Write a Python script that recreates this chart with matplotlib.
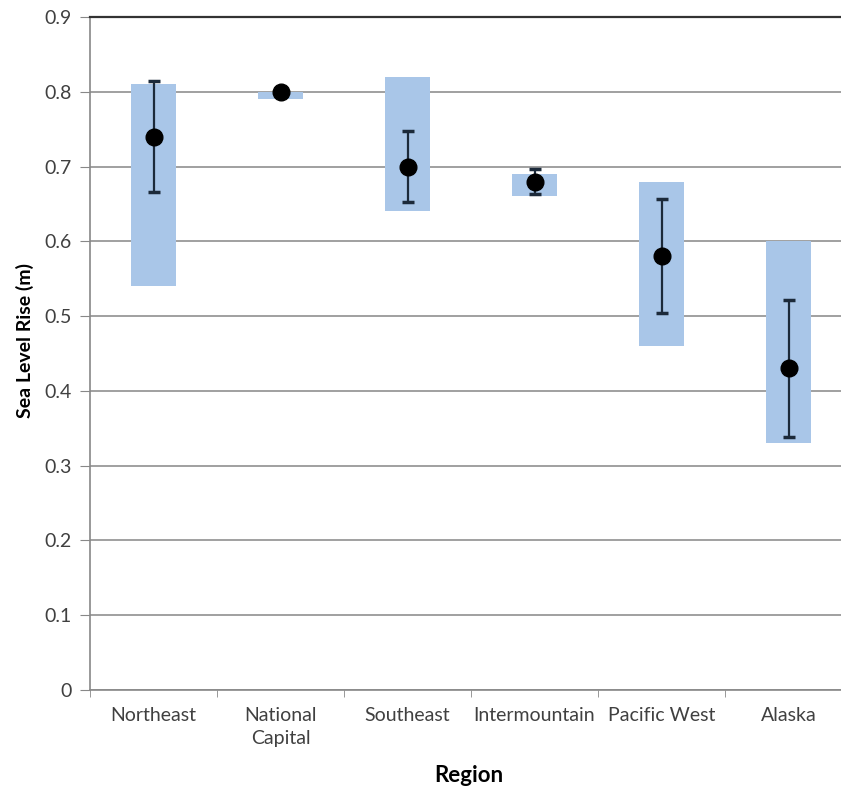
import numpy as np
import matplotlib.pyplot as plt

plt.rcParams['font.family'] = ['Lato', 'DejaVu Sans']

regions = ['Northeast', 'National\nCapital', 'Southeast', 'Intermountain', 'Pacific West', 'Alaska']
range_low = [0.54, 0.79, 0.64, 0.66, 0.46, 0.33]
range_high = [0.81, 0.80, 0.82, 0.69, 0.68, 0.60]
mean_rise = [0.74, 0.80, 0.70, 0.68, 0.58, 0.43]
err_low = [0.666, 0.80, 0.653, 0.663, 0.504, 0.339]
err_high = [0.814, 0.80, 0.748, 0.697, 0.656, 0.521]

x = np.arange(len(regions))
low = np.array(range_low)
high = np.array(range_high)
mean = np.array(mean_rise)
yerr = [mean - np.array(err_low), np.array(err_high) - mean]

fig = plt.figure(figsize=(8.41, 7.9), dpi=100)
ax = fig.add_axes([90 / 841, 100 / 790, 762 / 841, 673 / 790])

ax.bar(x, high - low, bottom=low, width=0.36, color='#a9c6e8', zorder=2)
ax.errorbar(x, mean, yerr=yerr, fmt='o', color='black', ms=12,
            ecolor='#1c2a3a', elinewidth=1.6, capsize=4, capthick=2.5, zorder=3)

ax.set_xlim(-0.5, len(regions) - 0.5)
ax.set_ylim(0, 0.9)
ax.set_yticks(np.arange(0, 0.91, 0.1))
ax.set_yticklabels(['0'] + ['%.1f' % v for v in np.arange(0.1, 0.91, 0.1)])
ax.set_xticks(x)
ax.set_xticklabels(regions, linespacing=1.45)
ax.set_xticks(np.arange(-0.5, len(regions), 1), minor=True)
ax.tick_params(axis='x', which='major', length=0, pad=12, labelsize=14, colors='#404040')
ax.tick_params(axis='x', which='minor', length=5, color='#888888')
ax.tick_params(axis='y', length=7, color='#888888', labelsize=14, colors='#404040', pad=6)
ax.grid(axis='y', color='#999999', linewidth=1.3, zorder=1)

for s in ['left', 'bottom']:
    ax.spines[s].set_color('#888888')
    ax.spines[s].set_linewidth(1.2)
ax.spines['top'].set_color('#333333')
ax.spines['top'].set_linewidth(1.6)
ax.spines['right'].set_visible(False)

ax.set_xlabel('Region', fontsize=16, fontweight='bold')
ax.set_ylabel('Sea Level Rise (m)', fontsize=14, fontweight='bold')
ax.yaxis.set_label_coords(-0.0735, 0.52)
ax.xaxis.set_label_coords(0.497, -0.112)

fig.savefig('out.png', dpi=100)
